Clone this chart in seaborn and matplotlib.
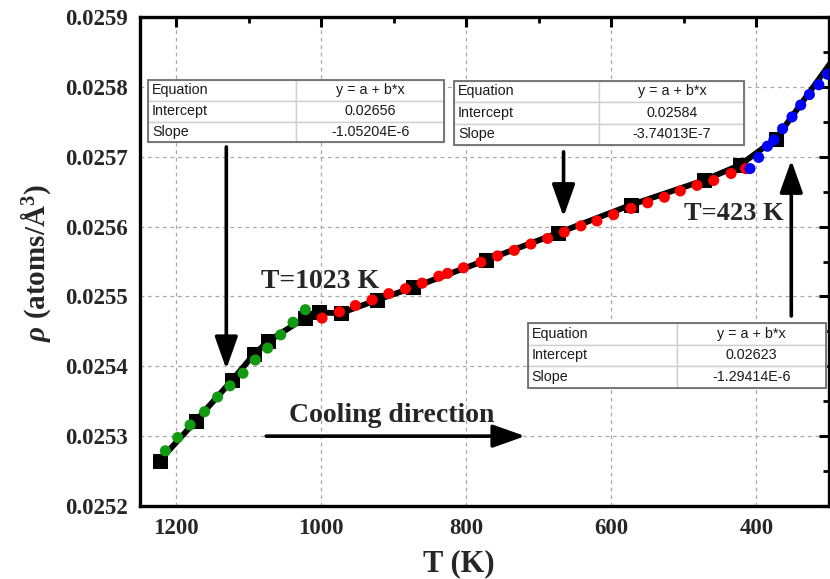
import numpy as np
import pandas as pd
import matplotlib
matplotlib.use("Agg")
import matplotlib.pyplot as plt
import seaborn as sns
from matplotlib.patches import Rectangle
from matplotlib.ticker import FixedLocator, FormatStrFormatter

# ---------------- data ----------------
sq_T = [1223, 1173, 1123, 1093, 1073, 1023, 1003, 973, 923, 873, 773, 673, 573, 473, 423, 373, 280]
sq_rho = [0.025265, 0.025322, 0.025380, 0.025417, 0.025436, 0.025469, 0.025477, 0.025476,
          0.025495, 0.025513, 0.025552, 0.025591, 0.025631, 0.025666, 0.025688, 0.025726, 0.025860]

green_T = [1215, 1198, 1181, 1161, 1143, 1126, 1108, 1091, 1074, 1056, 1039, 1022]
green_rho = [0.025279, 0.025298, 0.025316, 0.025335, 0.025356, 0.025372, 0.025390, 0.025409,
             0.025426, 0.025445, 0.025463, 0.025481]

red_T = [999, 975, 953, 930, 907, 884, 861, 838, 826, 804, 780, 757, 734, 711, 688, 665, 642,
         620, 597, 573, 550, 527, 505, 482, 459, 435, 415]
red_rho = [0.025469, 0.025478, 0.025487, 0.025495, 0.025504, 0.025511, 0.025519, 0.025529,
           0.025533, 0.025541, 0.025549, 0.025558, 0.025566, 0.025575, 0.025583, 0.025592,
           0.025601, 0.025608, 0.025617, 0.025626, 0.025634, 0.025642, 0.025651, 0.025659,
           0.025666, 0.025676, 0.025683]

blue_T = [409, 397, 385, 376, 364, 351, 339, 327, 314, 302]
blue_rho = [0.025683, 0.025699, 0.025715, 0.025724, 0.025740, 0.025757, 0.025774, 0.025789,
            0.025803, 0.025818]

x_ticks = [1200, 1000, 800, 600, 400]
x_minor = [1100, 900, 700, 500, 300]
y_ticks = [0.0252, 0.0253, 0.0254, 0.0255, 0.0256, 0.0257, 0.0258, 0.0259]

fits = [
    ("y = a + b*x", "0.02656", "-1.05204E-6"),
    ("y = a + b*x", "0.02584", "-3.74013E-7"),
    ("y = a + b*x", "0.02623", "-1.29414E-6"),
]
row_names = ["Equation", "Intercept", "Slope"]

# ---------------- style ----------------
sns.set_theme(style="white")
plt.rcParams["font.family"] = ["Liberation Serif", "DejaVu Serif"]
plt.rcParams["mathtext.fontset"] = "custom"
plt.rcParams["mathtext.rm"] = "Liberation Serif:bold"
plt.rcParams["mathtext.it"] = "Liberation Serif:italic:bold"
plt.rcParams["mathtext.bf"] = "Liberation Serif:bold"

fig = plt.figure(figsize=(8.30, 5.79), dpi=100)
ax = fig.add_axes([140 / 830, 1 - 506 / 579, 689 / 830, 489 / 579])

sq_df = pd.DataFrame({"T": sq_T, "rho": sq_rho})
sns.lineplot(data=sq_df, x="T", y="rho", ax=ax, color="black", lw=4.2, marker="s",
             markersize=10, markeredgecolor="black", markerfacecolor="black", sort=False, zorder=3)

for T, r, c in [(green_T, green_rho, "#139a13"), (red_T, red_rho, "#ff0000"), (blue_T, blue_rho, "#0000ff")]:
    sns.scatterplot(x=T, y=r, ax=ax, color=c, s=64, edgecolor="none", linewidth=0, zorder=4)

ax.set_xlim(1250, 300)
ax.set_ylim(0.0252, 0.0259)
ax.xaxis.set_major_locator(FixedLocator(x_ticks))
ax.xaxis.set_minor_locator(FixedLocator(x_minor))
ax.yaxis.set_major_locator(FixedLocator(y_ticks))
ax.yaxis.set_minor_locator(FixedLocator([round(v + 0.00005, 5) for v in y_ticks[:-1]]))
ax.yaxis.set_major_formatter(FormatStrFormatter("%.4f"))

ax.grid(True, which="major", color="#a8a8a8", linestyle=(0, (3, 3)), linewidth=0.9)
ax.set_axisbelow(True)
for s in ax.spines.values():
    s.set_linewidth(2.4)
    s.set_color("black")
ax.tick_params(which="both", direction="in", top=True, right=True, color="black")
ax.tick_params(which="major", length=7, width=2.2, pad=9)
ax.tick_params(which="minor", length=4, width=2.0)
for lab in ax.get_xticklabels() + ax.get_yticklabels():
    lab.set_fontsize(16.5)
    lab.set_fontweight("bold")
    lab.set_fontfamily("Liberation Serif")

ax.set_xlabel("T (K)", fontsize=22, fontweight="bold")
ax.xaxis.set_label_coords(0.463, -0.088)
ax.xaxis.label.set_va("top")
ax.set_ylabel(r"$\it{\rho}$ (atoms/Å$^{3}$)", fontsize=21, fontweight="bold")
ax.yaxis.set_label_coords(-0.152, 0.497)
ax.yaxis.label.set_va("center")

# ---------------- annotations ----------------
def arrow(x0, y0, x1, y1):
    ax.annotate("", xy=(x1, y1), xytext=(x0, y0), xycoords="data",
                arrowprops=dict(arrowstyle="-|>,head_length=0.9,head_width=0.32", lw=2.6,
                                color="black", mutation_scale=22, shrinkA=0, shrinkB=0),
                zorder=5)

arrow(1131, 0.025714, 1131, 0.025396)
arrow(666, 0.025707, 666, 0.025614)
arrow(352, 0.025472, 352, 0.025695)
arrow(1076, 0.0253, 719, 0.0253)

ax.text(1002, 0.025522, "T=1023 K", fontsize=20, fontweight="bold", ha="center", va="center", zorder=6)
ax.text(431, 0.025618, "T=423 K", fontsize=19, fontweight="bold", ha="center", va="center", zorder=6)
ax.text(903, 0.025329, "Cooling direction", fontsize=20, fontweight="bold", ha="center", va="center", zorder=6)

# fit tables (axes fraction boxes)
boxes = [(0.012, 0.7438, 0.4296, 0.1274),
         (0.4562, 0.7382, 0.4209, 0.1315),
         (0.5627, 0.2407, 0.4330, 0.1342)]
for (x, y, w, h), fit in zip(boxes, fits):
    cells = [[n, v] for n, v in zip(row_names, fit)]
    tb = ax.table(cellText=cells, bbox=[x, y, w, h], zorder=7)
    tb.auto_set_font_size(False)
    for (r, c), cell in tb.get_celld().items():
        cell.set_edgecolor("#d0d0d0")
        cell.set_linewidth(1.0)
        cell.set_facecolor("white")
        t = cell.get_text()
        t.set_fontsize(10.3)
        t.set_fontfamily("Liberation Sans")
        t.set_color("#1a1a1a")
        if c == 0:
            t.set_ha("left")
            cell._loc = "left"
            cell.PAD = 0.025
        else:
            t.set_ha("center")
            cell._loc = "center"
    ax.add_patch(Rectangle((x, y), w, h, transform=ax.transAxes, fill=False,
                           edgecolor="#6e6e6e", lw=1.3, zorder=8, clip_on=False))

fig.savefig("out.png", dpi=100)
